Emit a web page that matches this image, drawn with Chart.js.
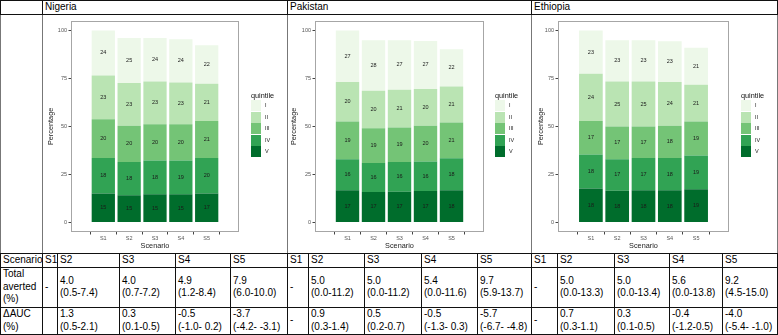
<!DOCTYPE html>
<html lang="en">
<head>
    <meta charset="UTF-8">
    <title>Quintile share by scenario</title>
    <script src="https://cdn.jsdelivr.net/npm/chart.js"></script>
    <style>
        html, body { margin: 0; padding: 0; background: #fff; }
        #page {
            position: relative;
            width: 778px;
            height: 335px;
            overflow: hidden;
            font-family: "Liberation Sans", Arial, sans-serif;
        }
        table.grid {
            position: absolute;
            left: 0;
            top: 0;
            width: 778px;
            border-collapse: collapse;
            table-layout: fixed;
            font-size: 10px;
            color: #000;
        }
        table.grid td {
            border: 1px solid #111;
            padding: 0 0 0 2px;
            vertical-align: middle;
            line-height: 12.5px;
            white-space: nowrap;
            overflow: hidden;
        }
        table.grid td.sep { border-left: 1px solid #666; }
        table.grid tr.charts td { border-left-color: #777; border-right-color: #777; }
        .panel { position: absolute; top: 16px; height: 236px; }
        .legend { position: absolute; font-size: 7.3px; color: #111; }
        .legend .ltitle { height: 9px; line-height: 9px; }
        .legend .item { height: 11.6px; line-height: 11.6px; font-size: 5.5px; color: #222; position: relative; }
        .legend .key {
            position: absolute; left: 0; top: 0;
            width: 10px; height: 11px;
            border-bottom: 0.6px solid #fff;
        }
        .legend .txt { position: absolute; left: 14px; top: 0; }
    </style>
</head>
<body>
<div id="page">
    <table class="grid" id="grid"></table>
</div>

<script>
    // ---- data ----
    const countries = ['Nigeria', 'Pakistan', 'Ethiopia'];
    const scenarios = ['S1', 'S2', 'S3', 'S4', 'S5'];
    const quintiles = ['I', 'II', 'III', 'IV', 'V'];
    const quintileColors = ['#edf8e9', '#bae4b3', '#74c476', '#31a354', '#006d2c'];
    const yTicks = [0, 25, 50, 75, 100];

    // bar segment heights (rows = quintile I..V, cols = S1..S5)
    const nigeriaHeights = [
        [23.5, 23.5, 22.7, 22.5, 20.1],
        [22.8, 22.3, 22.3, 21.8, 19.4],
        [20.1, 18.9, 18.9, 18.9, 19.2],
        [18.5, 17.2, 17.6, 17.6, 18.5],
        [15.1, 14.2, 14.6, 14.6, 15.1]
    ];
    const pakistanHeights = [
        [26.9, 26.3, 25.8, 25.0, 19.4],
        [20.6, 19.5, 19.7, 19.2, 18.8],
        [19.6, 18.2, 18.0, 18.6, 18.6],
        [16.1, 15.1, 15.4, 15.4, 16.6],
        [16.8, 15.8, 16.0, 16.3, 16.8]
    ];
    const ethiopiaHeights = [
        [22.6, 21.5, 21.5, 21.2, 19.2],
        [24.6, 23.5, 23.5, 22.8, 19.2],
        [17.5, 17.0, 16.3, 16.7, 17.7],
        [17.6, 16.4, 16.8, 16.8, 17.5],
        [17.7, 16.5, 16.8, 16.8, 17.3]
    ];

    // numbers printed inside the segments
    const nigeriaLabels = [
        [24, 25, 24, 24, 22],
        [23, 23, 23, 23, 21],
        [20, 20, 20, 20, 21],
        [18, 18, 18, 19, 20],
        [15, 15, 15, 15, 17]
    ];
    const pakistanLabels = [
        [27, 28, 27, 27, 22],
        [20, 20, 21, 20, 21],
        [19, 19, 19, 20, 21],
        [16, 16, 16, 16, 18],
        [17, 17, 17, 17, 18]
    ];
    const ethiopiaLabels = [
        [23, 23, 23, 23, 21],
        [24, 25, 25, 24, 21],
        [17, 17, 17, 18, 19],
        [18, 17, 17, 18, 19],
        [18, 18, 18, 18, 19]
    ];

    // table below the charts
    const nigeriaAverted = ['-', '4.0<br>(0.5-7.4)', '4.0<br>(0.7-7.2)', '4.9<br>(1.2-8.4)', '7.9<br>(6.0-10.0)'];
    const pakistanAverted = ['-', '5.0<br>(0.0-11.2)', '5.0<br>(0.0-11.2)', '5.4<br>(0.0-11.6)', '9.7<br>(5.9-13.7)'];
    const ethiopiaAverted = ['-', '5.0<br>(0.0-13.3)', '5.0<br>(0.0-13.4)', '5.6<br>(0.0-13.8)', '9.2<br>(4.5-15.0)'];
    const nigeriaAuc = ['', '1.3<br>(0.5-2.1)', '0.3<br>(0.1-0.5)', '-0.5<br>(-1.0- 0.2)', '-3.7<br>(-4.2- -3.1)'];
    const pakistanAuc = ['-', '0.9<br>(0.3-1.4)', '0.5<br>(0.2-0.7)', '-0.5<br>(-1.3- 0.3)', '-5.7<br>(-6.7- -4.8)'];
    const ethiopiaAuc = ['-', '0.7<br>(0.3-1.1)', '0.3<br>(0.1-0.5)', '-0.4<br>(-1.2-0.5)', '-4.0<br>(-5.4- -1.0)'];

    // ---- table ----
    const colWidths = [42, 15, 62, 56, 55, 57, 21, 56, 57, 56, 54, 26, 57, 55, 53, 55];
    const grid = document.getElementById('grid');
    let html = '<colgroup>' + colWidths.map(w => `<col style="width:${w}px">`).join('') + '</colgroup>';
    html += '<tr style="height:14px"><td></td>' + countries.map(c => `<td colspan="5" class="sep">${c}</td>`).join('') + '</tr>';
    html += '<tr class="charts" style="height:239px"><td></td>' + countries.map(() => '<td colspan="5" class="sep"></td>').join('') + '</tr>';
    html += '<tr style="height:13px"><td>Scenario</td>' + countries.map(() => scenarios.map((s, i) => `<td${i === 0 ? ' class="sep"' : ''}>${s}</td>`).join('')).join('') + '</tr>';
    const rowCells = arr => arr.map((v, i) => `<td${i === 0 ? ' class="sep"' : ''}>${v}</td>`).join('');
    html += '<tr style="height:40px"><td>Total<br>averted<br>(%)</td>' + rowCells(nigeriaAverted) + rowCells(pakistanAverted) + rowCells(ethiopiaAverted) + '</tr>';
    html += '<tr style="height:27px"><td>ΔAUC<br>(%)</td>' + rowCells(nigeriaAuc) + rowCells(pakistanAuc) + rowCells(ethiopiaAuc) + '</tr>';
    grid.innerHTML = html;

    // ---- charts ----
    const panelBox = {
        id: 'panelBox',
        afterDraw(chart) {
            const a = chart.chartArea, ctx = chart.ctx;
            ctx.save();
            ctx.strokeStyle = '#a6a6a6';
            ctx.lineWidth = 1;
            ctx.strokeRect(Math.round(a.left) + 0.5, Math.round(a.top) + 0.5,
                Math.round(a.right - a.left) - 1, Math.round(a.bottom - a.top) - 1);
            ctx.restore();
        }
    };

    const segmentLabels = {
        id: 'segmentLabels',
        afterDatasetsDraw(chart) {
            const ctx = chart.ctx;
            ctx.save();
            ctx.font = '5.5px "Liberation Sans", Arial, sans-serif';
            ctx.fillStyle = '#1a1a1a';
            ctx.textAlign = 'center';
            ctx.textBaseline = 'middle';
            chart.data.datasets.forEach((ds, i) => {
                chart.getDatasetMeta(i).data.forEach((bar, j) => {
                    ctx.fillText(ds.segmentText[j], bar.x, (bar.y + bar.base) / 2);
                });
            });
            ctx.restore();
        }
    };

    // plot panel edges in page pixels, y-title centre
    const panels = [
        { heights: nigeriaHeights, labels: nigeriaLabels, plotLeft: 71, plotRight: 239, titleX: 50.5, legendX: 251 },
        { heights: pakistanHeights, labels: pakistanLabels, plotLeft: 315, plotRight: 484, titleX: 293.5, legendX: 495 },
        { heights: ethiopiaHeights, labels: ethiopiaLabels, plotLeft: 558, plotRight: 729, titleX: 540.5, legendX: 741 }
    ];

    const page = document.getElementById('page');
    const axisFont = '"Liberation Sans", Arial, sans-serif';

    panels.forEach(p => {
        const wrapLeft = p.plotLeft - 28;
        const wrapWidth = 240;
        const wrap = document.createElement('div');
        wrap.className = 'panel';
        wrap.style.left = wrapLeft + 'px';
        wrap.style.width = wrapWidth + 'px';
        const canvas = document.createElement('canvas');
        wrap.appendChild(canvas);
        page.appendChild(wrap);

        const titleSize = 7.3;
        const titlePad = p.titleX - wrapLeft - titleSize * 1.2 / 2;

        const datasets = quintiles.map((q, i) => ({
            label: q,
            data: p.heights[i].map((v, j) => ({ x: j + 1, y: v })),
            segmentText: p.labels[i],
            backgroundColor: quintileColors[i],
            borderWidth: 0,
            barPercentage: 0.9,
            categoryPercentage: 1
        })).reverse();

        new Chart(canvas, {
            type: 'bar',
            data: { datasets },
            options: {
                responsive: true,
                maintainAspectRatio: false,
                animation: false,
                layout: { padding: { left: 0, top: 2, right: wrapWidth - (p.plotRight - wrapLeft), bottom: 0 } },
                plugins: { legend: { display: false }, tooltip: { enabled: false } },
                scales: {
                    x: {
                        type: 'linear',
                        stacked: true,
                        min: 0.4,
                        max: 5.6,
                        afterBuildTicks: s => { s.ticks = scenarios.map((_, i) => ({ value: i + 1 })); },
                        afterFit: s => { s.height = 20; },
                        ticks: {
                            callback: v => scenarios[v - 1],
                            font: { size: 5.5, family: axisFont },
                            color: '#555',
                            padding: 1,
                            maxRotation: 0,
                            autoSkip: false
                        },
                        grid: { drawOnChartArea: false, drawTicks: true, tickLength: 2.5, color: '#444' },
                        border: { display: false },
                        title: {
                            display: true, text: 'Scenario', color: '#222',
                            font: { size: titleSize, family: axisFont },
                            padding: { top: 0, bottom: 2 }
                        }
                    },
                    y: {
                        stacked: true,
                        min: -5,
                        max: 105,
                        afterBuildTicks: s => { s.ticks = yTicks.map(v => ({ value: v })); },
                        afterFit: s => { s.width = p.plotLeft - wrapLeft; },
                        ticks: {
                            font: { size: 5.5, family: axisFont },
                            color: '#555',
                            padding: 1.5
                        },
                        grid: { drawOnChartArea: false, drawTicks: true, tickLength: 2.5, color: '#444' },
                        border: { display: false },
                        title: {
                            display: true, text: 'Percentage', color: '#222',
                            font: { size: titleSize, family: axisFont },
                            padding: { top: titlePad, bottom: 0 }
                        }
                    }
                }
            },
            plugins: [panelBox, segmentLabels]
        });

        // legend, ggplot style
        const legend = document.createElement('div');
        legend.className = 'legend';
        legend.style.left = p.legendX + 'px';
        legend.style.top = '91px';
        let lg = '<div class="ltitle">quintile</div>';
        quintiles.forEach((q, i) => {
            lg += `<div class="item"><span class="key" style="background:${quintileColors[i]}"></span><span class="txt">${q}</span></div>`;
        });
        legend.innerHTML = lg;
        page.appendChild(legend);
    });
</script>
</body>
</html>
